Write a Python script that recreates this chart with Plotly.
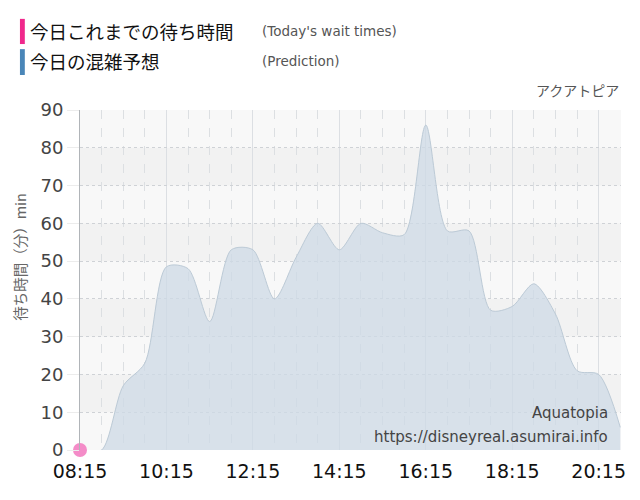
import plotly.graph_objects as go
import pandas as pd

# Prediction (every 30 min) for Aquatopia
pred_times = ["08:15", "08:45", "09:15", "09:45", "10:15", "10:45", "11:15", "11:45",
              "12:15", "12:45", "13:15", "13:45", "14:15", "14:45", "15:15", "15:45",
              "16:15", "16:45", "17:15", "17:45", "18:15", "18:45", "19:15", "19:45",
              "20:15", "20:45"]
pred_wait = [0, 0, 17, 23, 48.5, 48, 34, 53, 53, 40, 51, 60, 53, 60, 57.5, 57,
             86, 58, 58, 37, 38, 44, 36, 21, 20, 6]

# Actual wait times so far today
actual_times = ["08:15"]
actual_wait = [0]

tick_labels = ["08:15", "10:15", "12:15", "14:15", "16:15", "18:15", "20:15"]

day = "2024-05-01 "
pred_x = pd.to_datetime([day + t for t in pred_times])
actual_x = pd.to_datetime([day + t for t in actual_times])
tick_x = pd.to_datetime([day + t for t in tick_labels])

jp_font = "Noto Sans CJK JP"
en_font = "DejaVu Sans"

fig = go.Figure()

fig.add_trace(go.Scatter(
    x=pred_x, y=pred_wait,
    mode="lines",
    line=dict(shape="spline", smoothing=0.8, color="#bccad6", width=1),
    fill="tozeroy", fillcolor="rgba(205,218,230,0.75)",
    hoverinfo="x+y", showlegend=False,
))

fig.add_trace(go.Scatter(
    x=actual_x, y=actual_wait,
    mode="markers",
    marker=dict(size=14, color="#f48cc8"),
    cliponaxis=False, showlegend=False,
))

# alternating horizontal bands
shapes = []
for lo in [10, 30, 50, 70]:
    shapes.append(dict(type="rect", xref="paper", yref="y", x0=0, x1=1, y0=lo, y1=lo + 10,
                       fillcolor="#eeefef", opacity=0.6, line=dict(width=0), layer="below"))

# legend bars
shapes.append(dict(type="rect", xref="paper", yref="paper", x0=-0.111, x1=-0.102,
                   y0=1.194, y1=1.268, fillcolor="#f0288c", line=dict(width=0)))
shapes.append(dict(type="rect", xref="paper", yref="paper", x0=-0.111, x1=-0.102,
                   y0=1.103, y1=1.179, fillcolor="#4a86b8", line=dict(width=0)))


def note(text, x, y, xanchor, font, size, color, angle=0):
    return dict(text=text, x=x, y=y, xref="paper", yref="paper", xanchor=xanchor,
                yanchor="middle", showarrow=False, textangle=angle,
                font=dict(family=font, size=size, color=color))


annotations = [
    note("今日これまでの待ち時間", -0.097, 1.232, "left", jp_font, 18.5, "#111"),
    note("(Today's wait times)", 0.333, 1.232, "left", en_font, 13.5, "#555"),
    note("今日の混雑予想", -0.097, 1.144, "left", jp_font, 18.5, "#111"),
    note("(Prediction)", 0.333, 1.144, "left", en_font, 13.5, "#555"),
    note("アクアトピア", 1.0, 1.059, "right", jp_font, 14, "#555"),
    note("Aquatopia", 0.98, 0.109, "right", en_font, 15, "#444"),
    note("https://disneyreal.asumirai.info", 0.98, 0.038, "right", en_font, 15, "#444"),
    note("待ち時間（分）min", -0.111, 0.568, "center", jp_font, 14.5, "#666", angle=-90),
]

# page body adds an 8px margin, so the figure is sized to fit the 640x500 window
fig.update_layout(
    width=632, height=492,
    margin=dict(l=72, r=19, t=102, b=50, autoexpand=False),
    paper_bgcolor="white",
    plot_bgcolor="#f8f8f8",
    shapes=shapes,
    annotations=annotations,
    showlegend=False,
    xaxis=dict(
        type="date", automargin=False,
        range=[pd.Timestamp(day + "08:15"), pd.Timestamp(day + "20:46")],
        tickvals=tick_x, ticktext=tick_labels,
        tickfont=dict(family=en_font, size=19, color="#111"),
        showgrid=True, gridcolor="#dcdfe3", gridwidth=1,
        minor=dict(dtick=30 * 60 * 1000, tick0=pd.Timestamp(day + "08:15"),
                   showgrid=True, gridcolor="#dcdfe2", griddash="dash", gridwidth=1),
        showline=False, zeroline=False,
        ticks="outside", ticklen=4, tickcolor="rgba(0,0,0,0)",
    ),
    yaxis=dict(
        range=[0, 90], dtick=10, automargin=False,
        tickfont=dict(family=en_font, size=18, color="#444"),
        showgrid=True, gridcolor="#cfd2d6", griddash="dot", gridwidth=1,
        showline=True, linecolor="#b0b4b8", linewidth=1,
        zeroline=False, ticks="outside", ticklen=12, tickcolor="#ececec",
    ),
)

fig.write_html("out.html")
